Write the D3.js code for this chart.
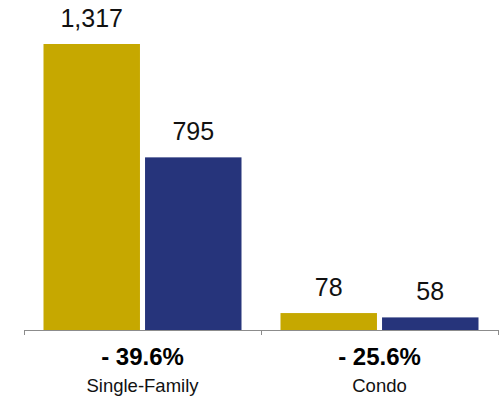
<!DOCTYPE html>
<html>
<head>
<meta charset="utf-8">
<script src="https://cdn.jsdelivr.net/npm/d3@7"></script>
<style>
  html, body { margin: 0; padding: 0; background: #fff; }
  svg { display: block; font-family: "Liberation Sans", Arial, Helvetica, sans-serif; }
</style>
</head>
<body>
<svg id="chart" width="502" height="399"></svg>
<script>
// Closed sales by property type, earlier period vs. later period
const categories = ["Single-Family", "Condo"];
const series = ["prior", "current"];
const priorValues = [1317, 78];
const currentValues = [795, 58];
const seriesColors = ["#C6A800", "#26347B"];

const width = 502, height = 399;
const margin = { left: 24, right: 4, baseline: 330 };

const svg = d3.select("#chart");

const x0 = d3.scaleBand()
  .domain(categories)
  .range([margin.left, width - margin.right])
  .paddingInner(0)
  .paddingOuter(0);

const x1 = d3.scaleBand()
  .domain(series)
  .range([19.5, x0.bandwidth() - 19.5])
  .paddingInner(0.05);

const y = d3.scaleLinear()
  .domain([0, 1317])
  .range([margin.baseline, 44]);

const color = d3.scaleOrdinal().domain(series).range(seriesColors);

const rows = categories.map((c, i) => ({
  category: c,
  values: [
    { key: "prior", value: priorValues[i] },
    { key: "current", value: currentValues[i] }
  ],
  change: (currentValues[i] - priorValues[i]) / priorValues[i]
}));

const groups = svg.selectAll("g.group")
  .data(rows)
  .join("g")
  .attr("class", "group")
  .attr("transform", d => `translate(${x0(d.category)},0)`);

groups.selectAll("rect")
  .data(d => d.values)
  .join("rect")
  .attr("x", d => x1(d.key))
  .attr("width", x1.bandwidth())
  .attr("y", d => y(d.value))
  .attr("height", d => y(0) - y(d.value))
  .attr("fill", d => color(d.key));

// value labels above bars
groups.selectAll("text.value")
  .data(d => d.values)
  .join("text")
  .attr("class", "value")
  .attr("x", d => x1(d.key) + x1.bandwidth() / 2)
  .attr("y", d => y(d.value) - 17)
  .attr("text-anchor", "middle")
  .attr("font-size", 25)
  .attr("fill", "#111")
  .text(d => d3.format(",")(d.value));

// category axis: baseline with ticks at band edges
const axisG = svg.append("g");
axisG.append("line")
  .attr("x1", x0.range()[0])
  .attr("x2", x0.range()[1])
  .attr("y1", y(0) + 0.5)
  .attr("y2", y(0) + 0.5)
  .attr("stroke", "#8c8c8c")
  .attr("stroke-width", 1);

const edges = categories.map(c => x0(c)).concat([x0.range()[1]]);
axisG.selectAll("line.tick")
  .data(edges)
  .join("line")
  .attr("class", "tick")
  .attr("x1", d => Math.round(d) + 0.5)
  .attr("x2", d => Math.round(d) + 0.5)
  .attr("y1", y(0))
  .attr("y2", y(0) + 5)
  .attr("stroke", "#8c8c8c")
  .attr("stroke-width", 1);

const pct = v => "- " + Math.abs(v * 100).toFixed(1) + "%";

groups.append("text")
  .attr("x", x0.bandwidth() / 2)
  .attr("y", 365)
  .attr("text-anchor", "middle")
  .attr("font-size", 24)
  .attr("font-weight", "bold")
  .attr("fill", "#000")
  .text(d => pct(d.change));

groups.append("text")
  .attr("x", x0.bandwidth() / 2)
  .attr("y", 392)
  .attr("text-anchor", "middle")
  .attr("font-size", 18.5)
  .attr("fill", "#111")
  .text(d => d.category);
</script>
</body>
</html>
